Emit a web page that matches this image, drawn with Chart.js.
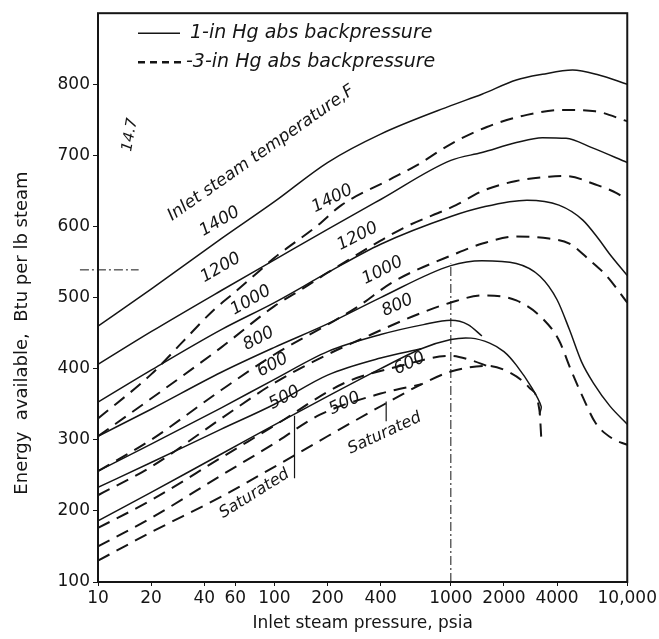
<!DOCTYPE html>
<html lang="en">
<head>
    <meta charset="UTF-8">
    <title>Energy available vs inlet steam pressure</title>
    <style>
        html, body { margin: 0; padding: 0; background: #fff; }
        canvas { display: block; }
    </style>
</head>
<body>
    <canvas id="myChart" width="659" height="639"></canvas>

    <script src="https://cdn.jsdelivr.net/npm/chart.js@4.4.1/dist/chart.umd.min.js"></script>
    <script>
        // Values: [inlet pressure psia, energy Btu/lb]
        // 1-in Hg abs backpressure (solid)
        var solid1400 = [[10, 460], [20, 512], [50, 583], [100, 635], [200, 690], [400, 730], [1000, 770], [1500, 786], [2350, 806], [3300, 814], [4900, 820], [6900, 813], [10000, 800]];
        var solid1200 = [[10, 406], [20, 452], [50, 510], [100, 553], [200, 596], [400, 638], [1000, 693], [1500, 704], [2350, 718], [3300, 725], [4500, 724], [6300, 711], [10000, 690]];
        var solid1000 = [[10, 353], [20, 398], [50, 455], [100, 493], [200, 535], [400, 575], [1000, 614], [1500, 627], [2700, 637], [4100, 630], [5600, 609], [6900, 582], [7900, 562], [10000, 531]];
        var solid800 = [[10, 305], [20, 343], [50, 395], [100, 430], [200, 463], [400, 500], [1000, 545], [1500, 552], [2350, 548], [3200, 530], [4000, 497], [4700, 455], [5500, 410], [6500, 378], [8000, 347], [10000, 322]];
        var solid600 = [[10, 256], [20, 294], [50, 345], [100, 385], [200, 424], [400, 448], [700, 462], [1000, 468], [1250, 462], [1500, 446]];
        var solid500 = [[10, 233], [20, 268], [50, 315], [100, 350], [200, 391], [400, 415], [680, 428]];
        var solidSat = [[10, 186], [20, 226], [50, 280], [100, 321], [200, 361], [400, 400], [680, 428], [1000, 441], [1300, 443], [1660, 436], [2000, 424], [2350, 405], [2880, 373], [3250, 347], [3180, 336]];

        // 3-in Hg abs backpressure (dashed)
        var dashed1400 = [[10, 330], [20, 392], [30, 437], [45, 482], [60, 508], [80, 535], [100, 556], [175, 601], [240, 630], [450, 666], [640, 686], [1000, 716], [1600, 740], [2700, 757], [4300, 764], [6600, 762], [10000, 748]];
        var dashed1200 = [[10, 305], [20, 358], [50, 430], [100, 488], [150, 515], [200, 535], [400, 580], [560, 600], [1070, 630], [1510, 650], [2350, 664], [3600, 670], [4500, 671], [6600, 659], [8700, 647], [10000, 637]];
        var dashed1000 = [[10, 256], [20, 300], [50, 370], [100, 420], [200, 462], [300, 488], [470, 522], [1070, 562], [1510, 576], [2350, 586], [3600, 583], [4700, 576], [6100, 553], [7600, 531], [10000, 493]];
        var dashed800 = [[10, 222], [20, 262], [50, 330], [100, 380], [200, 420], [300, 440], [600, 473], [1000, 493], [1510, 503], [2350, 496], [3300, 471], [4100, 440], [4800, 398], [5600, 360], [6600, 324], [8200, 302], [10000, 293]];
        var dashed600 = [[10, 176], [20, 215], [50, 275], [100, 320], [250, 380], [500, 403], [1000, 418], [1300, 412], [1600, 404]];
        var dashed500 = [[10, 150], [20, 190], [50, 250], [100, 295], [180, 335], [400, 365], [680, 378]];
        var dashedSat = [[10, 130], [20, 170], [50, 220], [100, 262], [200, 305], [420, 350], [680, 378], [1000, 396], [1600, 404], [2140, 395], [2790, 373], [3180, 341], [3260, 300]];

        // reading guides and label leaders
        var guide1000 = [[1000, 100], [1000, 548]];
        var guide539 = [[7.9, 539], [17, 539]];
        var leaderSolidSat = [[130, 246], [130, 334]];
        var leaderDashedSat = [[430, 326], [430, 354]];

        // axes
        var xTickValues = [10, 20, 40, 60, 100, 200, 400, 1000, 2000, 4000, 10000];
        var xTickLabels = ['10', '20', '40', '60', '100', '200', '400', '1000', '2000', '4000', '10,000'];
        var yTickValues = [100, 200, 300, 400, 500, 600, 700, 800];

        var legendTexts = ['1-in Hg abs backpressure', '-3-in Hg abs backpressure'];

        // text written on the plot, anchored in data units
        var plotTexts = [
            { text: 'Inlet steam temperature,F', p: 84, e: 703, angle: -35, size: 17 },
            { text: '14.7', p: 15.2, e: 729, angle: -80, size: 15 },
            { text: '1400', p: 49, e: 607, angle: -30, size: 17 },
            { text: '1200', p: 49.6, e: 542, angle: -30, size: 17 },
            { text: '1000', p: 73.5, e: 496, angle: -30, size: 17 },
            { text: '800', p: 81.5, e: 442, angle: -28, size: 17 },
            { text: '600', p: 97.7, e: 405, angle: -28, size: 17 },
            { text: '500', p: 114, e: 359, angle: -28, size: 17 },
            { text: 'Saturated', p: 77, e: 224, angle: -32, size: 16 },
            { text: '1400', p: 213, e: 639, angle: -27, size: 17 },
            { text: '1200', p: 296, e: 586, angle: -27, size: 17 },
            { text: '1000', p: 410, e: 538, angle: -27, size: 17 },
            { text: '800', p: 499, e: 489, angle: -25, size: 17 },
            { text: '600', p: 583, e: 407, angle: -25, size: 17 },
            { text: '500', p: 250, e: 351, angle: -25, size: 17 },
            { text: 'Saturated', p: 421, e: 309, angle: -25, size: 16 }
        ];

        var INK = '#151515';
        var FONT = '"DejaVu Sans", "Liberation Sans", sans-serif';

        function toPoints(pairs) {
            return pairs.map(function (p) { return { x: p[0], y: p[1] }; });
        }

        // x only rises along a curve, except where the saturated line hooks back
        function isMonotone(pairs) {
            for (var i = 1; i < pairs.length; i++) {
                if (pairs[i][0] <= pairs[i - 1][0]) return false;
            }
            return true;
        }

        function curve(pairs, dashed) {
            return {
                data: toPoints(pairs),
                borderColor: INK,
                borderWidth: dashed ? 2 : 1.5,
                borderDash: dashed ? [13, 8] : [],
                pointRadius: 0,
                cubicInterpolationMode: isMonotone(pairs) ? 'monotone' : 'default',
                tension: 0.3,
                fill: false
            };
        }

        function guide(pairs, width) {
            return {
                data: toPoints(pairs),
                borderColor: INK,
                borderWidth: width,
                borderDash: [9, 3, 2, 3],
                pointRadius: 0,
                tension: 0,
                clip: false
            };
        }

        var datasets = [
            curve(solid1400, false), curve(solid1200, false), curve(solid1000, false),
            curve(solid800, false), curve(solid600, false), curve(solid500, false), curve(solidSat, false),
            curve(dashed1400, true), curve(dashed1200, true), curve(dashed1000, true),
            curve(dashed800, true), curve(dashed600, true), curve(dashed500, true), curve(dashedSat, true),
            guide(guide1000, 1), guide(guide539, 1)
        ];
        var leader1 = curve(leaderSolidSat, false);
        leader1.borderWidth = 1.2;
        var leader2 = curve(leaderDashedSat, false);
        leader2.borderWidth = 1.2;
        datasets.push(leader1, leader2);

        // frame, legend, labels on the plot and the y title
        var overlay = {
            id: 'overlay',
            afterDatasetsDraw: function (chart) {
                var ctx = chart.ctx;
                var area = chart.chartArea;
                var xs = chart.scales.x;
                var ys = chart.scales.y;
                ctx.save();

                ctx.strokeStyle = INK;
                ctx.lineWidth = 2;
                ctx.strokeRect(area.left, area.top, area.right - area.left, area.bottom - area.top);

                // legend
                ctx.fillStyle = INK;
                ctx.font = 'italic 19px ' + FONT;
                ctx.textAlign = 'left';
                ctx.textBaseline = 'middle';
                for (var i = 0; i < legendTexts.length; i++) {
                    var ly = area.top + 20 + i * 29;
                    ctx.beginPath();
                    ctx.lineWidth = i === 0 ? 1.5 : 2.5;
                    ctx.setLineDash(i === 0 ? [] : [7, 5]);
                    ctx.moveTo(area.left + 40, ly);
                    ctx.lineTo(area.left + (i === 0 ? 82 : 84), ly);
                    ctx.stroke();
                    ctx.setLineDash([]);
                    ctx.fillText(legendTexts[i], area.left + (i === 0 ? 92 : 88), ly);
                }

                // curve labels
                ctx.textAlign = 'center';
                plotTexts.forEach(function (t) {
                    ctx.save();
                    ctx.translate(xs.getPixelForValue(t.p), ys.getPixelForValue(t.e));
                    ctx.rotate(t.angle * Math.PI / 180);
                    ctx.font = 'italic ' + t.size + 'px ' + FONT;
                    ctx.fillText(t.text, 0, 0);
                    ctx.restore();
                });

                // y axis title, sits a bit below the middle in the original
                ctx.save();
                ctx.translate(22, 333);
                ctx.rotate(-Math.PI / 2);
                ctx.font = '18px ' + FONT;
                ctx.fillText('Energy  available,  Btu per lb steam', 0, 0);
                ctx.restore();

                ctx.restore();
            }
        };

        new Chart(document.getElementById('myChart'), {
            type: 'line',
            data: { datasets: datasets },
            plugins: [overlay],
            options: {
                responsive: false,
                animation: false,
                devicePixelRatio: 1,
                layout: { padding: { top: 8, right: 31, left: 0, bottom: 0 } },
                plugins: {
                    legend: { display: false },
                    tooltip: { enabled: false }
                },
                scales: {
                    x: {
                        type: 'logarithmic',
                        min: 10,
                        max: 10000,
                        border: { display: false },
                        grid: { drawOnChartArea: false, drawTicks: true, tickLength: 4, color: INK },
                        afterBuildTicks: function (scale) {
                            scale.ticks = xTickValues.map(function (v) { return { value: v }; });
                        },
                        afterFit: function (scale) { scale.height = 57; },
                        ticks: {
                            autoSkip: false,
                            maxRotation: 0,
                            padding: 2,
                            color: INK,
                            font: { family: FONT, size: 17 },
                            callback: function (value, index) { return xTickLabels[index]; }
                        },
                        title: {
                            display: true,
                            text: 'Inlet steam pressure, psia',
                            color: INK,
                            font: { family: FONT, size: 17 },
                            padding: { top: 0, bottom: 5 }
                        }
                    },
                    y: {
                        type: 'linear',
                        min: 100,
                        max: 900,
                        border: { display: false },
                        grid: { drawOnChartArea: false, drawTicks: true, tickLength: 5, color: INK },
                        afterBuildTicks: function (scale) {
                            scale.ticks = yTickValues.map(function (v) { return { value: v }; });
                        },
                        afterFit: function (scale) { scale.width = 98; },
                        ticks: {
                            padding: 3,
                            color: INK,
                            font: { family: FONT, size: 17 }
                        }
                    }
                }
            }
        });
    </script>
</body>
</html>
